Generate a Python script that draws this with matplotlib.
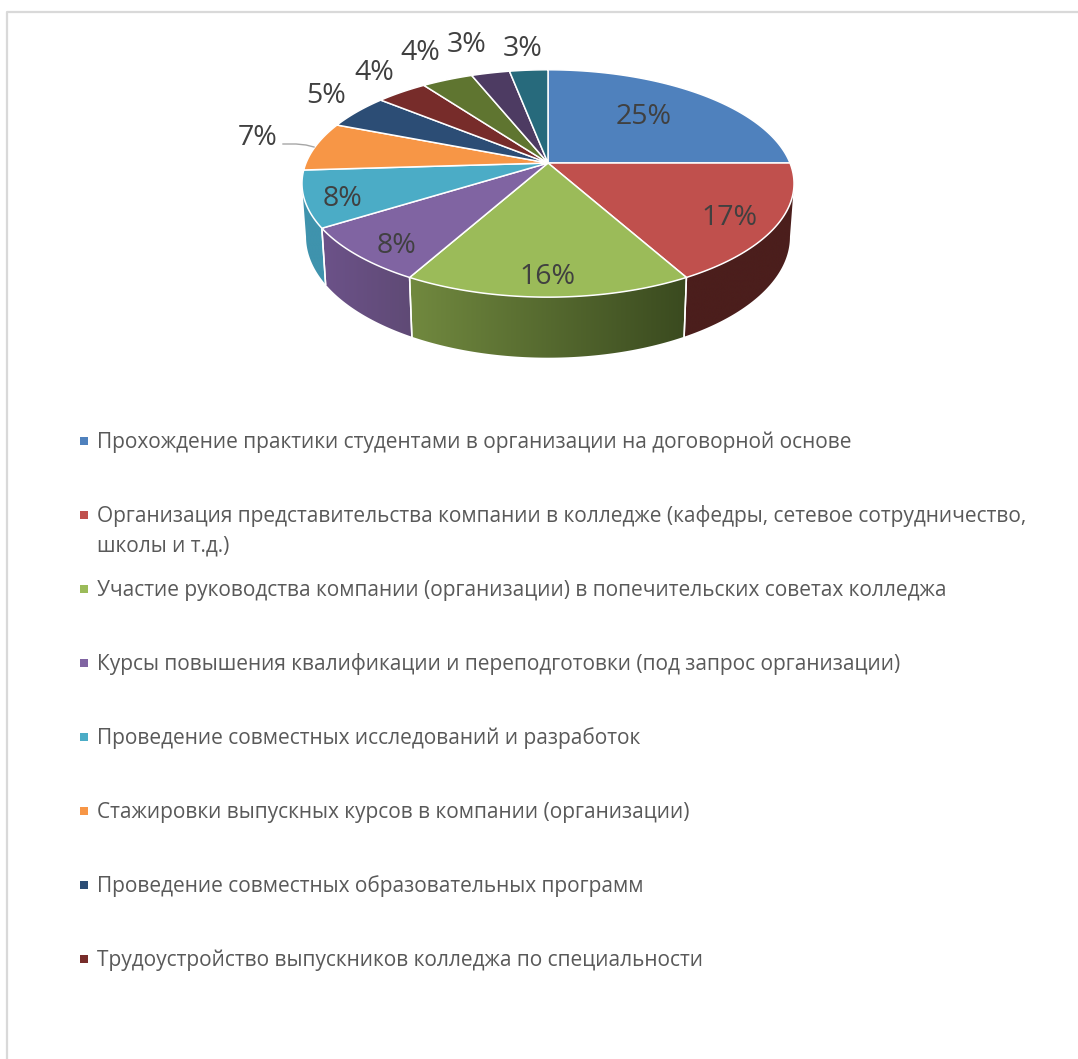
import numpy as np
import matplotlib
matplotlib.use('Agg')
import matplotlib.pyplot as plt
from matplotlib.colors import to_rgb
from matplotlib.patches import Polygon

plt.rcParams['font.family'] = ['Open Sans', 'DejaVu Sans']

# Данные диаграммы
values = [25, 17, 16, 8, 8, 7, 5, 4, 4, 3, 3]
top_colors = ['#4F81BD', '#C0504D', '#9BBB59', '#8064A2', '#4BACC6', '#F79646',
              '#2C4D75', '#772C2A', '#5F7530', '#4D3B62', '#276A7C']
legend_names = [
    'Прохождение практики студентами в организации на договорной основе',
    'Организация представительства компании в колледже (кафедры, сетевое сотрудничество,\nшколы и т.д.)',
    'Участие руководства компании (организации) в попечительских советах колледжа',
    'Курсы повышения квалификации и переподготовки (под запрос организации)',
    'Проведение совместных исследований и разработок',
    'Стажировки выпускных курсов в компании (организации)',
    'Проведение совместных образовательных программ',
    'Трудоустройство выпускников колледжа по специальности',
]

# Цвет боковой стенки: левый и правый край сектора
wall_colors = {
    1: ('#4B1E1C', '#4B1E1C'),
    2: ('#71893F', '#3A4A1F'),
    3: ('#6C5289', '#5F4A75'),
    4: ('#3F93AD', '#3F93AD'),
}

# Положение подписей
label_pos = [(644, 114), (729, 215), (547, 274), (397, 243), (343, 196), (258, 135),
             (326, 93), (374, 70), (420, 50), (467, 42), (523, 46)]
legend_y = [448, 522, 596, 670, 744, 818, 892, 966]

# Параметры перспективы
cx = 548
k = 0.18
top_y, top_rx, top_ry = 163, 242, 110
bot_y, bot_rx, bot_ry = 215, 238, 117
# Угол, на котором обод виден крайним справа и слева
side_t = np.arcsin(k)


def rim(t, y0, rx, ry):
    d = 1 + k * np.sin(t)
    return cx + rx * np.cos(t) / d, y0 - ry * np.sin(t) / d


fig = plt.figure(figsize=(10.78, 10.59), dpi=100)
ax = fig.add_axes([0, 0, 1, 1])
ax.axis('off')

# Рамка
ax.plot([6.5, 6.5, 1078], [1059, 11.5, 11.5], color='#D9D9D9', lw=1.6)

shares = np.array(values) / sum(values)
edges = np.pi / 2 - 2 * np.pi * np.concatenate([[0], np.cumsum(shares)])

# Боковые стенки
for i, (c_left, c_right) in wall_colors.items():
    t0 = min(edges[i], -side_t)
    t1 = max(edges[i + 1], -np.pi + side_t)
    ts = np.linspace(t0, t1, 80)
    xa, ya = rim(ts, top_y, top_rx, top_ry)
    xb, yb = rim(ts, bot_y, bot_rx, bot_ry)
    px = np.r_[xa, xb[::-1]]
    py = np.r_[ya, yb[::-1]]
    grad = np.linspace(to_rgb(c_left), to_rgb(c_right), 256)[None, :, :]
    im = ax.imshow(grad, extent=(px.min(), px.max(), py.max(), py.min()),
                   aspect='auto', zorder=2, interpolation='bilinear')
    poly = Polygon(np.c_[px, py], closed=True, transform=ax.transData)
    im.set_clip_path(poly)
    for t in (edges[i], edges[i + 1]):
        if -np.pi + side_t < t < -side_t:
            x1, y1 = rim(t, top_y, top_rx, top_ry)
            x2, y2 = rim(t, bot_y, bot_rx, bot_ry)
            ax.plot([x1, x2], [y1, y2], color='white', lw=1.1, zorder=3)

# Верхняя поверхность
for i, col in enumerate(top_colors):
    ts = np.linspace(edges[i], edges[i + 1], 80)
    x, y = rim(ts, top_y, top_rx, top_ry)
    ax.fill(np.r_[cx, x], np.r_[top_y, y], facecolor=col, edgecolor='white', lw=1.1, zorder=4)

# Выноска
ax.plot([283, 296, 306, 314], [144, 144, 145, 147], color='#A6A6A6', lw=1, zorder=5)

for v, (x, y) in zip(values, label_pos):
    ax.text(x, y + 3, f'{v}%', fontsize=20.5, color='#404040', ha='center', va='center', zorder=6)

# Легенда
for name, y, col in zip(legend_names, legend_y, top_colors):
    ax.fill([80, 88, 88, 80], [y - 11, y - 11, y - 3, y - 3], color=col, lw=0)
    for n, line in enumerate(name.split('\n')):
        ax.text(97, y + 29 * n, line, fontsize=15.05, color='#595959', ha='left', va='baseline')

ax.set_xlim(0, 1078)
ax.set_ylim(1059, 0)

fig.savefig('out.png', dpi=100)
